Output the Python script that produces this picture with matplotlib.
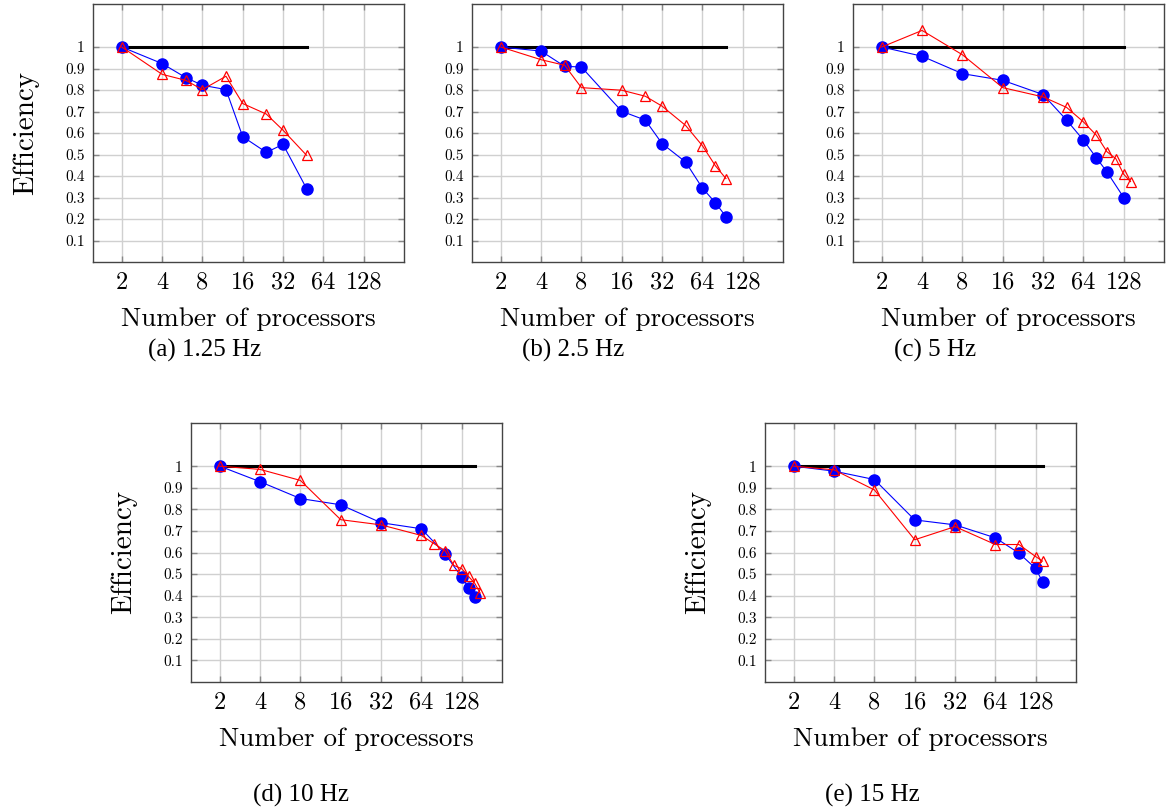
import matplotlib.pyplot as plt
import numpy as np

# processors and efficiency
a_blue_x = [2, 4, 6, 8, 12, 16, 24, 32, 48]
a_blue_y = [1.0, 0.923, 0.858, 0.822, 0.802, 0.583, 0.510, 0.547, 0.341]
a_red_x = [2, 4, 6, 8, 12, 16, 24, 32, 48]
a_red_y = [1.0, 0.873, 0.845, 0.802, 0.864, 0.737, 0.688, 0.613, 0.496]

b_blue_x = [2, 4, 6, 8, 16, 24, 32, 48, 64, 80, 96]
b_blue_y = [1.0, 0.981, 0.910, 0.907, 0.701, 0.660, 0.551, 0.465, 0.344, 0.276, 0.211]
b_red_x = [2, 4, 6, 8, 16, 24, 32, 48, 64, 80, 96]
b_red_y = [1.0, 0.941, 0.915, 0.811, 0.799, 0.771, 0.725, 0.635, 0.541, 0.448, 0.388]

c_blue_x = [2, 4, 8, 16, 32, 48, 64, 80, 96, 128]
c_blue_y = [1.0, 0.957, 0.876, 0.845, 0.779, 0.660, 0.567, 0.485, 0.419, 0.300]
c_red_x = [2, 4, 8, 16, 32, 48, 64, 80, 96, 112, 128, 144]
c_red_y = [1.0, 1.077, 0.964, 0.811, 0.768, 0.719, 0.652, 0.590, 0.513, 0.480, 0.408, 0.374]

d_blue_x = [2, 4, 8, 16, 32, 64, 96, 128, 144, 160]
d_blue_y = [1.0, 0.928, 0.850, 0.821, 0.738, 0.710, 0.594, 0.486, 0.437, 0.393]
d_red_x = [2, 4, 8, 16, 32, 64, 80, 96, 112, 128, 144, 160, 176]
d_red_y = [1.0, 0.985, 0.934, 0.752, 0.728, 0.679, 0.640, 0.609, 0.540, 0.525, 0.489, 0.458, 0.412]

e_blue_x = [2, 4, 8, 16, 32, 64, 96, 128, 144]
e_blue_y = [1.0, 0.977, 0.938, 0.751, 0.728, 0.668, 0.597, 0.526, 0.464]
e_red_x = [2, 4, 8, 16, 32, 64, 96, 128, 144]
e_red_y = [1.0, 0.983, 0.890, 0.659, 0.720, 0.637, 0.637, 0.581, 0.560]

captions = ["(a) 1.25 Hz", "(b) 2.5 Hz", "(c) 5 Hz", "(d) 10 Hz", "(e) 15 Hz"]
xticks = [2, 4, 8, 16, 32, 64, 128]
yticks = [0.1, 0.2, 0.3, 0.4, 0.5, 0.6, 0.7, 0.8, 0.9, 1.0]
ytick_labels = ["0.1", "0.2", "0.3", "0.4", "0.5", "0.6", "0.7", "0.8", "0.9", "1"]

panels = [
    (a_blue_x, a_blue_y, a_red_x, a_red_y),
    (b_blue_x, b_blue_y, b_red_x, b_red_y),
    (c_blue_x, c_blue_y, c_red_x, c_red_y),
    (d_blue_x, d_blue_y, d_red_x, d_red_y),
    (e_blue_x, e_blue_y, e_red_x, e_red_y),
]

W, H = 1166, 811
# axes boxes in pixels: left, top, right, bottom
boxes = [(93, 4, 404, 262), (472, 4, 783, 262), (853, 4, 1164, 262),
         (191, 423, 502, 682), (765, 423, 1076, 682)]
cap_pos = [(205, 350), (573, 350), (935, 350), (301, 795), (872, 795)]

cm = "cmr10"
fig = plt.figure(figsize=(W / 100, H / 100), dpi=100)

for i, (bx, by, rx, ry) in enumerate(panels):
    l, t, r, b = boxes[i]
    ax = fig.add_axes([l / W, 1 - b / H, (r - l) / W, (b - t) / H])
    ax.set_xscale("log", base=2)
    ax.plot([bx[0], bx[-1]], [1, 1], color="black", lw=2.2, zorder=2)
    ax.plot(bx, by, color="blue", lw=0.8, marker="o", ms=8, zorder=3)
    ax.plot(rx, ry, color="red", lw=0.8, marker="^", ms=7.5,
            fillstyle="none", mew=0.9, zorder=4)
    ax.set_xlim(1.22, 256)
    ax.set_ylim(0, 1.2)
    ax.set_xticks(xticks)
    ax.set_xticklabels([str(v) for v in xticks], fontfamily=cm, fontsize=17.5)
    ax.minorticks_off()
    ax.set_yticks(yticks)
    ax.set_yticklabels(ytick_labels, fontfamily=cm, fontsize=11)
    ax.grid(True, color="#d0d0d0", lw=1)
    ax.set_axisbelow(True)
    ax.tick_params(direction="in", top=True, right=True, length=4,
                   color="#888888", width=1)
    ax.tick_params(axis="x", pad=7)
    ax.tick_params(axis="y", pad=6)
    for s in ax.spines.values():
        s.set_color("#444444")
        s.set_linewidth(1)
    ax.set_xlabel("Number of processors", fontfamily=cm, fontsize=19.5, labelpad=10)
    if i in (0, 3, 4):
        ax.set_ylabel("Efficiency", fontfamily=cm, fontsize=21, labelpad=19)
    cx, cy = cap_pos[i]
    fig.text(cx / W, 1 - cy / H, captions[i], ha="center", va="center",
             fontfamily=["Liberation Serif", "DejaVu Serif"], fontsize=18)

fig.savefig("out.png", dpi=100)
